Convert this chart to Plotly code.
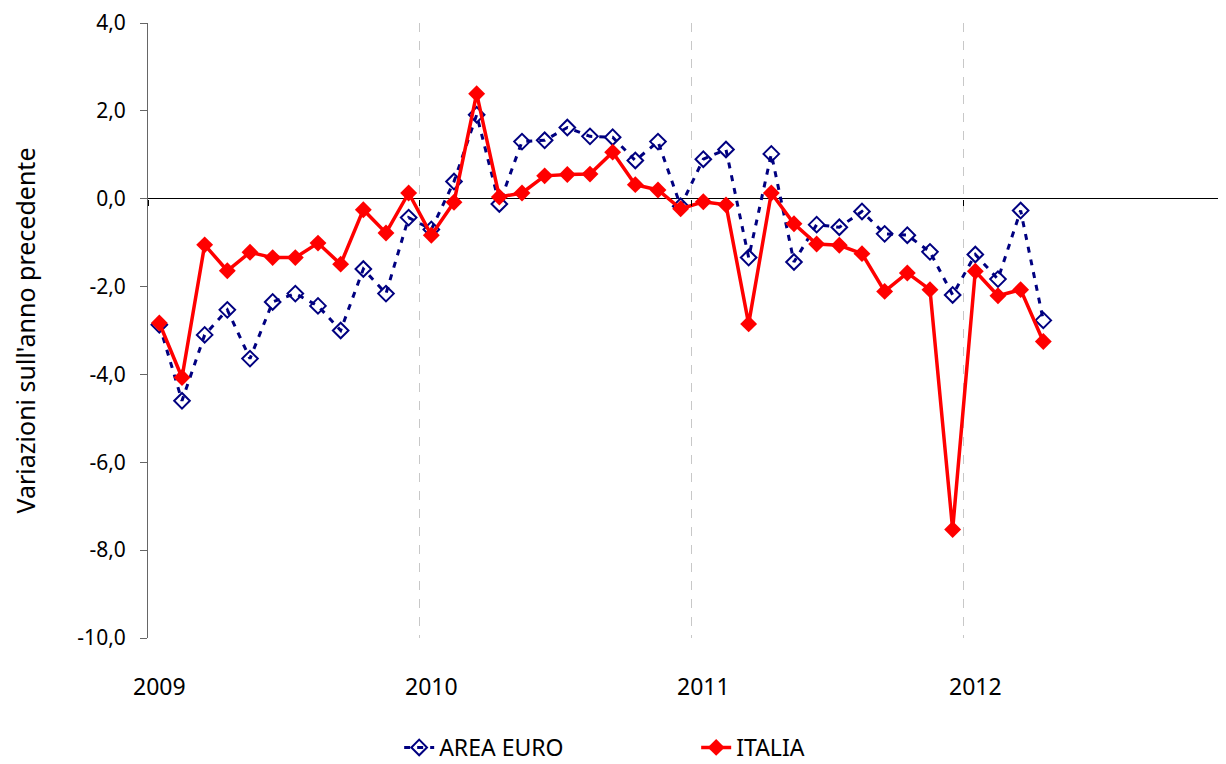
import plotly.graph_objects as go

months = list(range(40))  # Jan 2009 .. Apr 2012
year_ticks = [0, 12, 24, 36]
year_labels = ["2009", "2010", "2011", "2012"]
y_ticks = [-10, -8, -6, -4, -2, 0, 2, 4]
y_tick_labels = ["-10,0", "-8,0", "-6,0", "-4,0", "-2,0", "0,0", "2,0", "4,0"]

area_euro = [
    -2.87, -4.60, -3.10, -2.53, -3.64, -2.35, -2.16, -2.44, -3.00, -1.60, -2.16, -0.43,
    -0.70, 0.39, 1.91, -0.12, 1.30, 1.33, 1.62, 1.42, 1.40, 0.87, 1.30, -0.17,
    0.90, 1.12, -1.34, 1.02, -1.44, -0.59, -0.65, -0.29, -0.80, -0.83, -1.21, -2.19,
    -1.27, -1.83, -0.27, -2.77,
]
italia = [
    -2.83, -4.07, -1.05, -1.64, -1.22, -1.34, -1.34, -1.01, -1.49, -0.25, -0.78, 0.13,
    -0.83, -0.08, 2.39, 0.04, 0.13, 0.52, 0.55, 0.56, 1.06, 0.32, 0.20, -0.23,
    -0.07, -0.14, -2.85, 0.13, -0.57, -1.03, -1.06, -1.25, -2.11, -1.69, -2.07, -7.53,
    -1.65, -2.21, -2.07, -3.25,
]

FONT = "Noto Sans"
FS = 23

fig = go.Figure()
fig.add_trace(go.Scatter(
    x=months, y=area_euro, name="AREA EURO", mode="lines+markers",
    line=dict(color="#000080", width=3, dash="6px,7px"),
    marker=dict(symbol="diamond-open", size=12, color="#000080",
                line=dict(color="#000080", width=2)),
))
fig.add_trace(go.Scatter(
    x=months, y=italia, name="ITALIA", mode="lines+markers",
    line=dict(color="#ff0000", width=3.5),
    marker=dict(symbol="diamond", size=13, color="#ff0000"),
))

fig.update_layout(
    width=1218, height=756,
    margin=dict(l=140, r=0, t=15, b=126, autoexpand=False),
    plot_bgcolor="white", paper_bgcolor="white",
    font=dict(family=FONT, size=FS, color="black"),
    showlegend=True,
    legend=dict(orientation="h", x=0.233, xanchor="left", y=-0.178, yanchor="middle",
                entrywidth=252, entrywidthmode="pixels",
                font=dict(family=FONT, size=23, color="black")),
    xaxis=dict(
        range=[-0.5, 47.06], tickmode="array", tickvals=year_ticks, ticktext=year_labels,
        showgrid=False, zeroline=False, showline=False, automargin=False,
        ticks="outside", ticklen=28, tickcolor="rgba(0,0,0,0)",
        tickfont=dict(family=FONT, size=FS),
        minor=dict(tickmode="linear", tick0=11.5, dtick=12, showgrid=True,
                   gridcolor="#c8c8c8", griddash="dash", gridwidth=1, ticks=""),
    ),
    xaxis2=dict(
        overlaying="x", anchor="free", position=10 / 14, range=[-0.5, 47.06],
        tickmode="array", tickvals=[-0.5, 11.5, 23.5, 35.5], showticklabels=False,
        ticks="outside", ticklen=6, tickcolor="black", tickwidth=1, automargin=False,
        showgrid=False, zeroline=False, showline=False, side="bottom",
    ),
    yaxis=dict(
        range=[-10, 4], tickmode="array", tickvals=y_ticks, ticktext=y_tick_labels,
        showgrid=False, zeroline=True, zerolinecolor="black", zerolinewidth=1,
        showline=True, linecolor="#666666", linewidth=1,
        ticks="outside", ticklen=7, tickcolor="#666666", ticklabelstandoff=10,
        ticklabeloverflow="allow",
        tickfont=dict(family=FONT, size=21),
        title=dict(text="Variazioni sull'anno precedente", standoff=34,
                   font=dict(family=FONT, size=25)),
        automargin=False,
    ),
)
fig.add_trace(go.Scatter(x=[None], y=[None], xaxis="x2", showlegend=False, hoverinfo="skip"))

fig.write_html("out.html")
